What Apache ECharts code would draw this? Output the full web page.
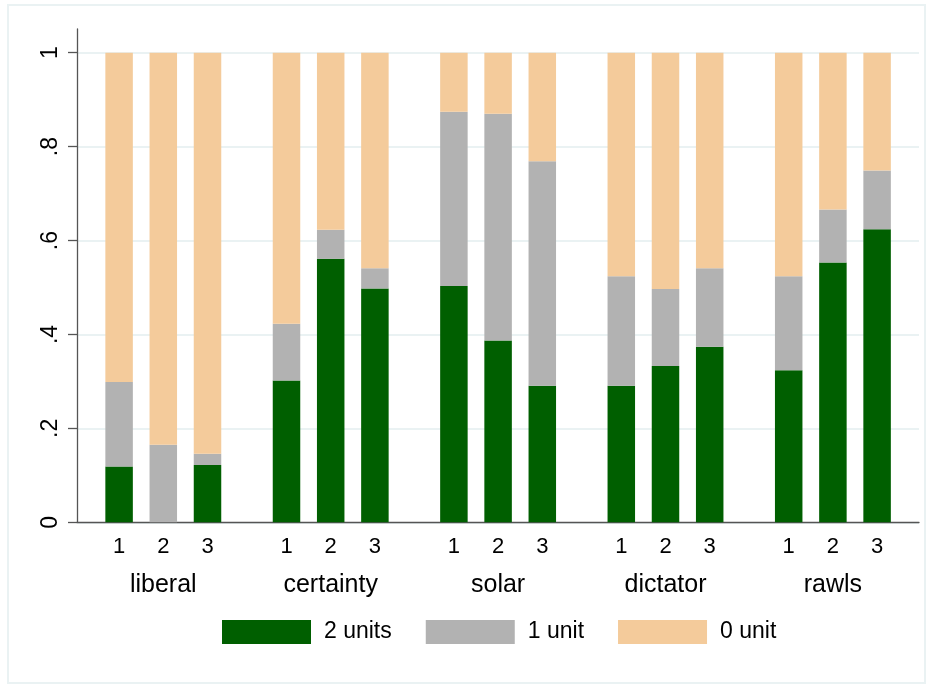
<!DOCTYPE html>
<html>
<head>
<meta charset="utf-8">
<script src="https://cdn.jsdelivr.net/npm/echarts@6/dist/echarts.min.js"></script>
<style>html,body{margin:0;padding:0;background:#fff}#c{width:933px;height:685px}</style>
</head>
<body>
<div id="c"></div>
<script>
// ---- data ----
const groups = ['liberal', 'certainty', 'solar', 'dictator', 'rawls'];
const rounds = ['1', '2', '3'];
const seriesNames = ['2 units', '1 unit', '0 unit'];
const twoUnits = [[0.119, 0.000, 0.122], [0.302, 0.561, 0.498], [0.503, 0.387, 0.291], [0.291, 0.333, 0.374], [0.324, 0.553, 0.624]];
const oneUnit  = [[0.180, 0.165, 0.024], [0.121, 0.062, 0.043], [0.371, 0.483, 0.478], [0.233, 0.164, 0.167], [0.200, 0.113, 0.125]];
const zeroUnit = [[0.701, 0.835, 0.854], [0.577, 0.377, 0.459], [0.126, 0.130, 0.231], [0.476, 0.503, 0.459], [0.476, 0.334, 0.251]];
const yTicks = ['0', '.2', '.4', '.6', '.8', '1'];

// ---- layout ----
const FONT = '"Liberation Sans", Arial, sans-serif';
const colors = ['#005F00', '#B2B2B2', '#F4CB9B'];
const plotLeft = 77, plotRight = 14, plotTop = 52.7, plotBottom = 162.7;
const firstCenter = 163.3, groupStep = 167.4, bandW = 44.2, groupW = bandW * 3;
const values = [twoUnits, oneUnit, zeroUnit];

const grids = [
  { left: plotLeft, right: plotRight, top: 29, bottom: plotBottom },       // y-axis line frame
  { left: plotLeft, right: plotRight, top: plotTop, bottom: plotBottom }   // main value axis
];
const xAxes = [
  { gridIndex: 0, type: 'value', show: false },
  { gridIndex: 1, type: 'value', min: 0, max: 1, axisLabel: { show: false }, axisTick: { show: false },
    splitLine: { show: false }, axisLine: { show: true, lineStyle: { color: '#555', width: 1.3 } } }
];
const yAxes = [
  { gridIndex: 0, type: 'value', min: 0, max: 1, axisLabel: { show: false }, axisTick: { show: false },
    splitLine: { show: false }, axisLine: { show: true, lineStyle: { color: '#555', width: 1.3 } } },
  { gridIndex: 1, type: 'value', min: 0, max: 1, interval: 0.2,
    axisLine: { show: false },
    axisTick: { show: true, length: 9, lineStyle: { color: '#555', width: 1.3 } },
    axisLabel: { rotate: 90, margin: 15, fontSize: 23, color: '#000', fontFamily: FONT,
      formatter: v => yTicks[Math.round(v * 5)] },
    splitLine: { show: true, lineStyle: { color: '#EAF2F3', width: 2 } } }
];
const series = [];
groups.forEach((g, i) => {
  const gi = grids.length;
  grids.push({ left: firstCenter + i * groupStep - groupW / 2, width: groupW, top: plotTop, bottom: plotBottom });
  xAxes.push({ gridIndex: gi, type: 'category', data: rounds,
    axisLine: { show: false }, axisTick: { show: false },
    axisLabel: { fontSize: 22, color: '#000', fontFamily: FONT, margin: 14 },
    name: g, nameLocation: 'middle', nameGap: 50,
    nameTextStyle: { fontSize: 25, color: '#000', fontFamily: FONT } });
  yAxes.push({ gridIndex: gi, type: 'value', min: 0, max: 1, show: false });
  seriesNames.forEach((n, k) => {
    series.push({ type: 'bar', name: n, stack: 'g' + i, xAxisIndex: gi, yAxisIndex: gi,
      barWidth: 27.5, data: values[k][i], itemStyle: { color: colors[k] }, silent: true });
  });
});

const chart = echarts.init(document.getElementById('c'), null, { renderer: 'canvas' });
chart.setOption({
  animation: false,
  backgroundColor: '#fff',
  color: colors,
  grid: grids, xAxis: xAxes, yAxis: yAxes, series: series,
  legend: {
    data: seriesNames, left: 217, top: 615, itemWidth: 89, itemHeight: 24, itemGap: 34,
    icon: 'rect', selectedMode: false,
    textStyle: { fontSize: 23, color: '#000', fontFamily: FONT, padding: [0, 0, 0, 8] }
  },
  graphic: [{ type: 'rect', shape: { x: 8, y: 5, width: 917, height: 678 }, silent: true,
    style: { fill: 'none', stroke: '#EAF2F3', lineWidth: 2 } }]
});
</script>
</body>
</html>
